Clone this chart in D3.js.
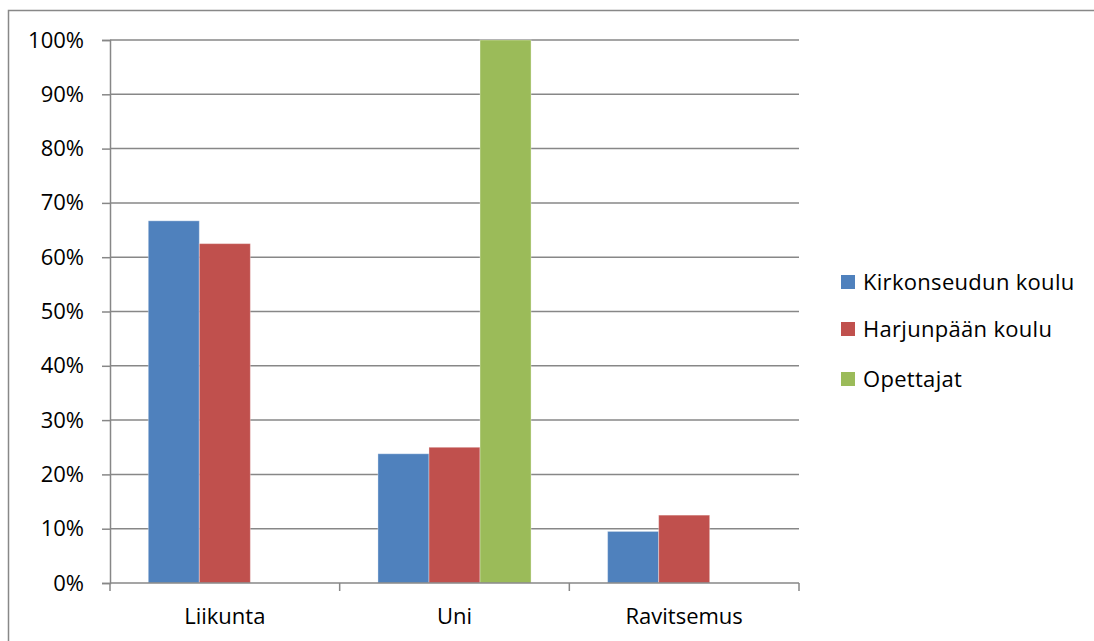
<!DOCTYPE html>
<html>
<head>
<meta charset="utf-8">
<script src="https://cdn.jsdelivr.net/npm/d3@7"></script>
<style>
  body { margin: 0; background: #fff; }
  svg { display: block; }
</style>
</head>
<body>
<div id="chart"></div>
<script>
const categories = ['Liikunta', 'Uni', 'Ravitsemus']
const seriesNames = ['Kirkonseudun koulu', 'Harjunpään koulu', 'Opettajat']
const kirkonseutu = [0.667, 0.238, 0.095]
const harjunpaa = [0.625, 0.25, 0.125]
const opettajat = [0, 1.0, 0]
const yTicks = [0, 0.1, 0.2, 0.3, 0.4, 0.5, 0.6, 0.7, 0.8, 0.9, 1.0]

const colors = ['#4F81BD', '#C0504D', '#9BBB59']
const W = 1094
const H = 641
const FONT = "'Open Sans', 'Noto Sans', sans-serif"
const FS = 22

const plot = { left: 110, right: 799, top: 40, bottom: 583 }

const svg = d3.select('#chart').append('svg').attr('width', W).attr('height', H)

// outer frame
svg.append('rect')
  .attr('x', 8.5).attr('y', 10.5)
  .attr('width', W + 10).attr('height', H + 10)
  .attr('fill', 'none').attr('stroke', '#888').attr('stroke-width', 1.5)

const y = d3.scaleLinear().domain([0, 1]).range([plot.bottom, plot.top])
const x0 = d3.scaleBand().domain(categories).range([plot.left, plot.right]).paddingInner(0).paddingOuter(0)
const x1 = d3.scaleBand().domain(seriesNames).range([0, x0.bandwidth()]).paddingOuter(0.75)

const rows = categories.map((c, i) => ({
  cat: c,
  vals: [kirkonseutu[i], harjunpaa[i], opettajat[i]],
}))

// gridlines
svg.append('g').selectAll('line')
  .data(yTicks.slice(1))
  .join('line')
  .attr('x1', plot.left).attr('x2', plot.right)
  .attr('y1', d => y(d)).attr('y2', d => y(d))
  .attr('stroke', '#878787').attr('stroke-width', 1.5)

// bars
const groups = svg.append('g').selectAll('g')
  .data(rows)
  .join('g')
  .attr('transform', d => `translate(${x0(d.cat)},0)`)

groups.selectAll('rect')
  .data(d => d.vals.map((v, i) => ({ v, s: seriesNames[i], i })))
  .join('rect')
  .filter(d => d.v > 0)
  .attr('x', d => x1(d.s))
  .attr('y', d => y(d.v))
  .attr('width', x1.bandwidth())
  .attr('height', d => y(0) - y(d.v))
  .attr('fill', d => colors[d.i])
  .attr('stroke', 'rgba(255,255,255,0.35)')
  .attr('stroke-width', 1)

// y axis
const yAxis = d3.axisLeft(y)
  .tickValues(yTicks)
  .tickSize(8)
  .tickPadding(18)
  .tickFormat(d3.format('.0%'))

const yg = svg.append('g').attr('transform', `translate(${plot.left},0)`).call(yAxis)
yg.select('.domain').attr('stroke', '#878787').attr('stroke-width', 1.5)
yg.selectAll('.tick line').attr('stroke', '#878787').attr('stroke-width', 1.5)
yg.selectAll('.tick text')
  .attr('font-family', FONT).attr('font-size', FS).attr('fill', '#000')

// x axis
const xg = svg.append('g').attr('transform', `translate(0,${plot.bottom})`)
xg.append('line')
  .attr('x1', plot.left).attr('x2', plot.right)
  .attr('stroke', '#878787').attr('stroke-width', 1.5)

const edges = categories.map(c => x0(c)).concat([plot.right])
xg.selectAll('.xt')
  .data(edges)
  .join('line')
  .attr('class', 'xt')
  .attr('x1', d => d).attr('x2', d => d)
  .attr('y1', 0).attr('y2', 8)
  .attr('stroke', '#878787').attr('stroke-width', 1.5)

xg.selectAll('text')
  .data(categories)
  .join('text')
  .attr('x', d => x0(d) + x0.bandwidth() / 2)
  .attr('y', 41)
  .attr('text-anchor', 'middle')
  .attr('font-family', FONT).attr('font-size', FS).attr('fill', '#000')
  .text(d => d)

// legend
const legend = svg.append('g').attr('transform', 'translate(841,0)')
const legendY = [282, 329, 379]
seriesNames.forEach((name, i) => {
  legend.append('rect')
    .attr('x', 0).attr('y', legendY[i] - 7)
    .attr('width', 14).attr('height', 14)
    .attr('fill', colors[i])
  legend.append('text')
    .attr('x', 22).attr('y', legendY[i] + 8)
    .attr('font-family', FONT).attr('font-size', FS).attr('fill', '#000')
    .attr('letter-spacing', 0.3)
    .text(name)
})
</script>
</body>
</html>
